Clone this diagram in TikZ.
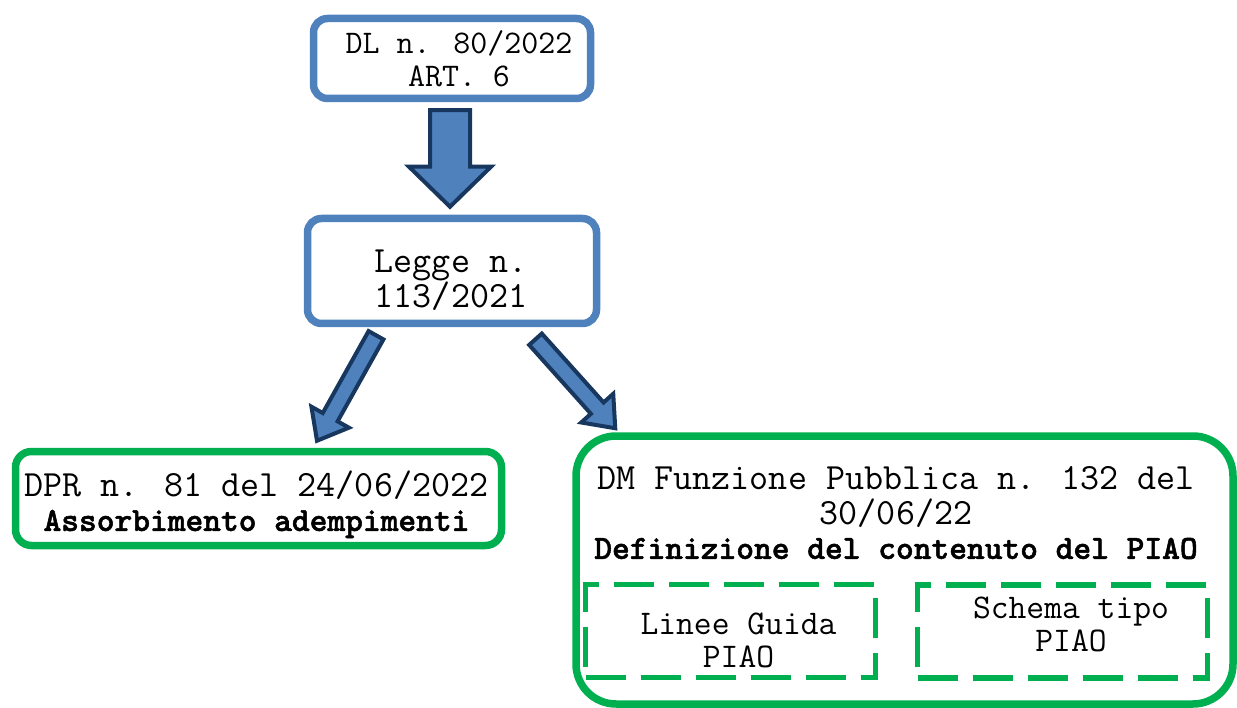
\documentclass[tikz,border=0pt]{standalone}
\usepackage{fontspec}
\newfontfamily\grassetto{lmmonolt10-bold.otf}[FakeBold=1.5]
\usepackage{xcolor}
\definecolor{blu}{HTML}{4F81BD}
\definecolor{blunotte}{HTML}{17375E}
\definecolor{verde}{HTML}{00B050}
\usetikzlibrary{positioning,calc}
\newcommand\grande{\ttfamily\fontsize{37}{34.5}\selectfont}
\newcommand\piccolo{\ttfamily\fontsize{33}{33}\selectfont}
\newcommand\medio{\ttfamily\fontsize{34.6}{33}\selectfont}
\newcommand\nero{\grassetto\fontsize{33.8}{33}\selectfont}

\begin{document}
\begin{tikzpicture}[x=1pt,y=1pt,font=\grande,
  norma/.style={draw=blu,line width=7.5pt,rounded corners=14pt,fill=white},
  esito/.style={draw=verde,line width=7.5pt,rounded corners=16pt,fill=white},
  parte/.style={draw=verde,line width=5.5pt,dash pattern=on 40pt off 15pt,minimum width=290pt,minimum height=93pt},
  testo/.style={align=center,inner sep=0pt},
  blocco/.style={draw=blunotte,fill=blu,line width=4pt,line join=miter}]
  \useasboundingbox (0,0) rectangle (1237,-708);
  \clip (0,0) rectangle (1237,-708);
  % norme
  \node[norma,minimum width=277pt,minimum height=80pt] (dl) at (452,-58.5) {};
  \node[testo,font=\piccolo] (dltesto) at ($(dl)+(7,0)$) {DL n. 80/2022\\ART. 6};
  \node[norma,minimum width=289pt,minimum height=105pt,below=112.5pt of dl] (legge) {};
  \node[testo] (leggetesto) at ($(legge)+(-1,-9)$) {Legge n.\\113/2021};
  \node[esito,minimum width=486pt,minimum height=94pt] (dpr) at (258.5,-498.5) {};
  \node[testo] (dprtesto) at ($(dpr)+(-2,-6)$) {DPR n. 81 del 24/06/2022\\{\nero Assorbimento adempimenti}};
  \node[esito,rounded corners=40pt,minimum width=657pt,minimum height=268pt] (dm) at (904.5,-570) {};
  \node[testo] (titolo) at (896,-513) {DM Funzione Pubblica n. 132 del\\30/06/22\\{\nero Definizione del contenuto del PIAO}};
  \node[parte] (linee) at (730.5,-631) {};
  \node[testo,font=\medio] (lineetesto) at ($(linee)+(8,-9)$) {Linee Guida\\PIAO};
  \node[parte] (schema) at (1062.5,-631.5) {};
  \node[testo,font=\medio] (schematesto) at ($(schema)+(8.5,7.5)$) {Schema tipo\\PIAO};
  % frecce
  \coordinate (t1) at ($(dl.south)+(-2,-8)$);
  \coordinate (p1) at ($(legge.north)+(-2,8)$);
  \coordinate (t2) at ($(legge.south)+(-76,-8)$);
  \coordinate (p2) at ($(dpr.north)+(58.5,7)$);
  \coordinate (t3) at ($(legge.south)+(83.5,-12)$);
  \coordinate (p3) at ($(dm.north west)+(43,4)$);
  \foreach \a/\b/\w/\h/\l in {t1/p1/20pt/41pt/40pt,t2/p2/8.5pt/21.5pt/27pt,t3/p3/8.5pt/21.5pt/27pt}
    \draw[blocco] ($(\a)!\w!90:(\b)$) -- ($(\b)!\l!(\a)!\w!-90:(\a)$) -- ($(\b)!\l!(\a)!\h!-90:(\a)$) -- (\b)
      -- ($(\b)!\l!(\a)!\h!90:(\a)$) -- ($(\b)!\l!(\a)!\w!90:(\a)$) -- ($(\a)!\w!-90:(\b)$) -- cycle;
\end{tikzpicture}
\end{document}
